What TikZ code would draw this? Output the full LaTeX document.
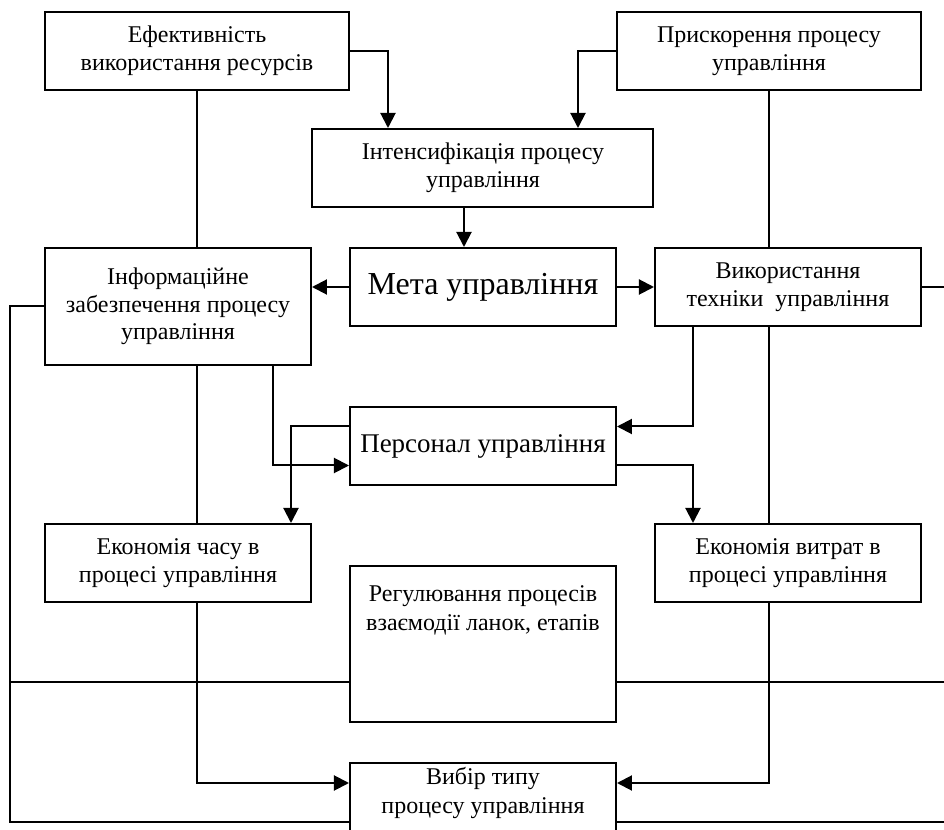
\documentclass[tikz,border=0pt]{standalone}
\usepackage{fontspec}
\setmainfont{Liberation Serif}
\usetikzlibrary{arrows.meta, positioning}

\begin{document}
\begin{tikzpicture}[
        node distance=19.5pt and 18.5pt,
        box/.style={rectangle, draw, line width=1pt, minimum width=133pt, minimum height=39pt, align=center, inner sep=2pt, font=\fontsize{12}{13.8}\selectfont},
        boxtext/.style={anchor=north, align=center, font=\fontsize{12}{14.5}\selectfont},
        arrow/.style={-{Triangle[length=7.5pt, width=7.5pt]}, line width=1pt},
        line/.style={line width=1pt}
    ]
    
    \useasboundingbox (-241.5pt,143.5pt) rectangle (230.5pt,-271.5pt);
    \clip (-241.5pt,143.5pt) rectangle (230.5pt,-271.5pt);
    
    \node (meta) [box, font=\fontsize{16}{19}\selectfont] {Мета управління};
    \node (int) [box, minimum width=170.5pt, above=of meta] {Інтенсифікація процесу\\управління};
    \node (vyk) [box, right=of meta] {Використання\\техніки~ управління};
    \node (inf) [box, minimum height=58.5pt, left=of meta.north west, anchor=north east] {Інформаційне\\забезпечення процесу\\управління};
    \node (ef) [box, minimum width=152pt, above=78pt of inf, xshift=9.5pt] {Ефективність\\використання ресурсів};
    \node (pr) [box, minimum width=152pt, above=78pt of vyk, xshift=-9.5pt] {Прискорення процесу\\управління};
    \node (pers) [box, font=\fontsize{13.5}{16}\selectfont, below=39.5pt of meta] {Персонал управління};
    \node (ekch) [box, below=78.5pt of inf] {Економія часу в\\процесі управління};
    \node (ekv) [box, below=98pt of vyk] {Економія витрат в\\процесі управління};
    \node (reg) [box, minimum height=78pt, below=39.5pt of pers,
        label={[boxtext, yshift=-7pt]north:{Регулювання процесів\\взаємодії ланок, етапів}}] {};
    \node (vyb) [box, below=of reg,
        label={[boxtext, yshift=1pt]north:{Вибір типу\\процесу управління}}] {};
    
    \coordinate (ledge) at (-236.5pt,0);
    \coordinate (redge) at (231pt,0);
    \coordinate (regL) at ([yshift=-19pt]reg.west);
    \coordinate (regR) at ([yshift=-19pt]reg.east);
    \coordinate (vybL) at ([yshift=-10pt]vyb.west);
    \coordinate (vybR) at ([yshift=-10pt]vyb.east);
    
    \draw [arrow] (ef.east) -| ([xshift=-47.5pt]int.north);
    \draw [arrow] (pr.west) -| ([xshift=47.5pt]int.north);
    \draw [arrow] ([xshift=-9.5pt]int.south) -- ([xshift=-9.5pt]meta.north);
    \draw [arrow] (meta.west) -- (meta.west -| inf.east);
    \draw [arrow] (meta) -- (vyk);
    \draw [line] (ef.south) -- (ef.south |- inf.north);
    \draw [line] (pr.south) -- (pr.south |- vyk.north);
    \draw [line] (vyk.east) -- (vyk.east -| redge);
    \draw [line] ([xshift=9.5pt]inf.south) -- ([xshift=9.5pt]ekch.north);
    \draw [arrow] ([xshift=47.5pt]inf.south) |- ([yshift=-9.75pt]pers.west);
    \draw [arrow] ([yshift=9.75pt]pers.west) -| ([xshift=56.5pt]ekch.north);
    \draw [arrow] ([xshift=-47.5pt]vyk.south) |- ([yshift=9.75pt]pers.east);
    \draw [arrow] ([yshift=-9.75pt]pers.east) -| ([xshift=-47.5pt]ekv.north);
    \draw [line] ([xshift=-9.5pt]vyk.south) -- ([xshift=-9.5pt]ekv.north);
    \draw [arrow] ([xshift=9.5pt]ekch.south) |- ([yshift=9.5pt]vyb.west);
    \draw [arrow] ([xshift=-9.5pt]ekv.south) |- ([yshift=9.5pt]vyb.east);
    \draw [line] (inf.west) -| (ledge |- vybL) -- (vybL);
    \draw [line] (regL) -- (regL -| ledge);
    \draw [line] (regR) -- (regR -| redge);
    \draw [line] (vybR) -- (vybR -| redge);
    
    \end{tikzpicture}
\end{document}
